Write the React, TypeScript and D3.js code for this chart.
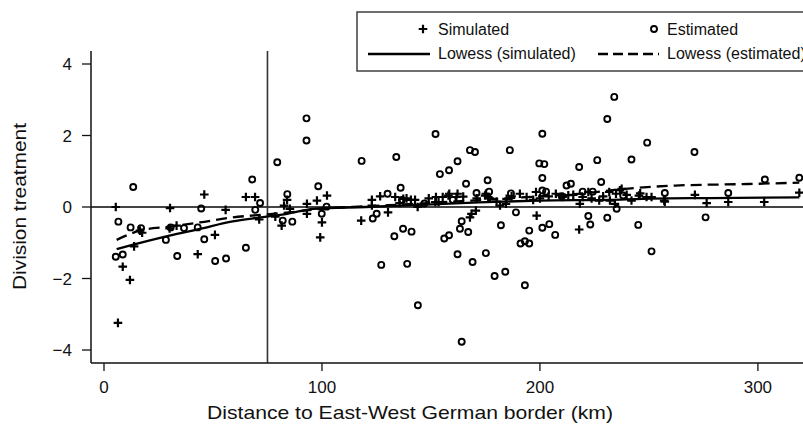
import { useEffect, useRef } from 'react';
import * as d3 from 'd3';

// [distance km, treatment]
const simulated: [number, number][] = [
  [5.4, 0], [8.6, -1.67], [11.9, -2.04], [13.8, -1.1], [16.5, -0.66], [17.5, -0.72],
  [30.3, -0.03], [33.3, -0.52], [30.1, -0.6], [46, 0.35], [43, -1.32], [50.9, -0.78],
  [55.8, -0.08], [65.1, 0.28], [69.3, 0.28], [71.2, -0.35], [6.4, -3.24],
  [81.5, -0.52], [82.6, 0.04], [85.3, -0.05], [84, 0.2], [78.6, -0.27], [93.1, 0.09],
  [93.1, -0.19], [97.7, 0.18], [102.3, 0.32], [100, -0.43], [99.2, -0.85], [118, -0.38],
  [122.9, 0.2], [122.9, 0.04], [126.7, 0.3], [130.3, -0.15], [133.6, 0.28], [135.6, 0.11],
  [137.3, 0.23], [140.8, 0.2], [143.9, 0], [152, 0.14], [153.5, 0.14], [158, 0.32],
  [161.7, 0.28], [168.6, -0.19], [167.9, -0.29], [170.6, -0.1], [174.8, 0.32], [176.3, 0.28],
  [181.7, 0.04], [184.7, 0.23], [190.8, 0.37], [193.9, 0.28], [198.5, -0.24], [218, -0.63],
  [158.4, 0.37], [162.2, 0.37], [175.2, 0.37], [198.2, 0.42], [207.3, 0.37], [210.4, 0.28],
  [219.6, 0.28], [227.2, 0.18], [231.8, 0.42], [152.3, 0.28], [155.4, 0.28], [184.4, 0.09],
  [234.9, 0.37], [237.5, 0.51], [242, 0.18], [245.4, 0.32], [248.9, 0.28], [251.2, 0.28],
  [257, 0.18], [271.1, 0.34], [276.5, 0.11], [286.4, 0.14], [302.9, 0.14], [319, 0.4],
  [232.1, 0.18], [234.4, 0.09], [218.3, 0.09], [222.2, 0.42], [236.7, 0.47],
  [138.8, 0.24], [142.7, 0.2], [149, 0.24], [164.8, 0.29], [171, 0.24], [177.1, 0.24],
  [180.1, 0.15], [187, 0.3], [196.9, 0.2], [200, 0.24], [204, 0.3], [213, 0.33],
  [215.3, 0.34], [223.7, 0.24], [229, 0.3], [239.8, 0.34], [246, 0.38], [257.3, 0.15],
];

const estimated: [number, number][] = [
  [13.4, 0.56], [6.6, -0.41], [12.2, -0.57], [17, -0.59], [5.4, -1.39], [8.6, -1.33],
  [28.4, -0.92], [33.6, -1.37], [30.6, -0.57], [36.7, -0.59], [43, -0.57], [44.6, -0.04],
  [46, -0.9], [51, -1.51], [56, -1.44], [65.1, -1.14], [68, 0.77], [69.4, -0.08], [71.6, 0.11],
  [79.5, 1.25], [84.1, 0.36], [82, -0.38], [86.4, -0.41], [92.9, 2.48], [92.9, 1.86],
  [98.3, 0.58], [102.1, 0.01], [99.9, -0.19], [118.2, 1.29], [134.1, 1.4], [123.3, -0.32],
  [125.1, -0.19], [130.1, 0.37], [136.1, 0.54], [133.2, -0.82], [137.2, -0.61], [141.1, -0.69],
  [127.2, -1.62], [139.1, -1.59], [144, -2.75], [164.1, -3.77], [152.1, 2.04], [154.1, 0.92],
  [158.3, 1.03], [162.2, 1.28], [166.1, 0.65], [167.9, 1.59], [170.2, 1.54], [186.2, 1.59],
  [176, 0.75], [170.9, 0.39], [164.1, -0.4], [163.3, -0.61], [167.1, -0.7], [156.1, -0.88],
  [158.3, -0.79], [162.2, -1.32], [169.1, -1.54], [175.2, -1.29], [179.2, -1.93], [184.1, -1.81],
  [182.1, -0.51], [189, -0.15], [195.1, -0.66], [191.1, -1.02], [193.1, -0.96], [195.1, -1.02],
  [193.1, -2.19], [201.1, 2.05], [199.7, 1.22], [202, 1.2], [201.1, 0.81], [218, 1.12],
  [226.3, 1.31], [230.9, 2.46], [234.1, 3.08], [242, 1.33], [249.2, 1.8], [270.9, 1.54],
  [228.1, 0.7], [212.2, 0.6], [214.2, 0.65], [303.2, 0.77], [319, 0.82], [201.1, 0.46],
  [257.3, 0.39], [286.4, 0.39], [235.2, -0.05], [222.2, -0.25], [223.1, -0.49], [230.9, -0.3],
  [245.1, -0.5], [251.2, -1.24], [276, -0.29], [201.1, -0.58], [204.3, -0.48], [207, -0.78],
  [238.2, 0.32], [136.7, 0.2], [176.7, 0.43], [186.7, 0.38], [202.8, 0.43], [219.6, 0.43],
  [224.2, 0.43], [147, 0.1], [160, 0.2], [210, 0.3],
];

const lowessSimulated: [number, number][] = [
  [5.8, -1.18], [13, -1.06], [30, -0.8], [44, -0.61], [59, -0.4], [72, -0.29], [84, -0.19],
  [96, -0.05], [120, 0.0], [142, 0.05], [172, 0.13], [200, 0.18], [232, 0.2], [247, 0.23],
  [278, 0.25], [319, 0.27],
];

const lowessEstimated: [number, number][] = [
  [5.8, -0.92], [16.5, -0.66], [30, -0.55], [44, -0.43], [59, -0.29], [72, -0.22], [85, -0.15],
  [100, -0.05], [120, 0.02], [140, 0.08], [160, 0.15], [180, 0.22], [200, 0.3], [220, 0.38],
  [238, 0.5], [262, 0.6], [293, 0.64], [319, 0.68],
];

const xTicks = [0, 100, 200, 300];
const yTicks = [-4, -2, 0, 2, 4];
const cutoff = 75;

export default function App() {
  const svgRef = useRef<SVGSVGElement>(null);

  useEffect(() => {
    if (!svgRef.current) return;
    const svg = d3.select(svgRef.current);
    svg.selectAll('*').remove();

    const left = 91;
    const right = 812;
    const top = 51;
    const bottom = 363;

    const x = d3.scaleLinear().domain([0, 300]).range([104, 757.9]);
    const y = d3.scaleLinear().domain([-4, 4]).range([350, 64]);

    const font = '"Liberation Sans", Arial, Helvetica, sans-serif';

    // zero line and cutoff
    svg.append('line')
      .attr('x1', left).attr('x2', right)
      .attr('y1', y(0)).attr('y2', y(0))
      .attr('stroke', '#444').attr('stroke-width', 2);
    svg.append('line')
      .attr('x1', x(cutoff)).attr('x2', x(cutoff))
      .attr('y1', top).attr('y2', bottom)
      .attr('stroke', '#333').attr('stroke-width', 1.6);

    // axes
    svg.append('line')
      .attr('x1', left).attr('x2', left).attr('y1', top).attr('y2', bottom)
      .attr('stroke', '#111').attr('stroke-width', 1.5);
    svg.append('line')
      .attr('x1', left).attr('x2', right).attr('y1', bottom).attr('y2', bottom)
      .attr('stroke', '#111').attr('stroke-width', 1.5);

    yTicks.forEach(t => {
      svg.append('line')
        .attr('x1', left - 9).attr('x2', left).attr('y1', y(t)).attr('y2', y(t))
        .attr('stroke', '#111').attr('stroke-width', 1.3);
      svg.append('text')
        .attr('x', 72).attr('y', y(t) + 6)
        .attr('text-anchor', 'end')
        .style('font-family', font).style('font-size', '17px').attr('fill', '#111')
        .text(t < 0 ? `\u2212${-t}` : `${t}`);
    });

    xTicks.forEach(t => {
      svg.append('line')
        .attr('x1', x(t)).attr('x2', x(t)).attr('y1', bottom).attr('y2', bottom + 8)
        .attr('stroke', '#111').attr('stroke-width', 1.3);
      svg.append('text')
        .attr('x', x(t)).attr('y', 393)
        .attr('text-anchor', 'middle')
        .style('font-family', font).style('font-size', '17px').attr('fill', '#111')
        .text(`${t}`);
    });

    svg.append('text')
      .attr('x', 207).attr('y', 419)
      .attr('textLength', 406).attr('lengthAdjust', 'spacingAndGlyphs')
      .style('font-family', font).style('font-size', '18.5px').attr('fill', '#111')
      .text('Distance to East-West German border (km)');

    svg.append('text')
      .attr('transform', 'translate(25.5,206.5) rotate(-90)')
      .attr('text-anchor', 'middle')
      .attr('textLength', 167).attr('lengthAdjust', 'spacingAndGlyphs')
      .style('font-family', font).style('font-size', '18.5px').attr('fill', '#111')
      .text('Division treatment');

    const plus = 'M-4.3,0H4.3M0,-4.3V4.3';

    // points
    svg.append('g').selectAll('path')
      .data(simulated)
      .enter().append('path')
      .attr('d', plus)
      .attr('transform', d => `translate(${x(d[0])},${y(d[1])})`)
      .attr('stroke', '#000').attr('stroke-width', 2.2).attr('fill', 'none');

    svg.append('g').selectAll('circle')
      .data(estimated)
      .enter().append('circle')
      .attr('cx', d => x(d[0])).attr('cy', d => y(d[1]))
      .attr('r', 3)
      .attr('fill', 'none').attr('stroke', '#000').attr('stroke-width', 1.9);

    // lowess lines
    const line = d3.line<[number, number]>()
      .x(d => x(d[0])).y(d => y(d[1]))
      .curve(d3.curveMonotoneX);

    svg.append('path')
      .datum(lowessSimulated)
      .attr('d', line)
      .attr('fill', 'none').attr('stroke', '#000').attr('stroke-width', 2.3);

    svg.append('path')
      .datum(lowessEstimated)
      .attr('d', line)
      .attr('fill', 'none').attr('stroke', '#000').attr('stroke-width', 2.3)
      .attr('stroke-dasharray', '11,6');

    // legend
    const lg = svg.append('g');
    lg.append('rect')
      .attr('x', 357).attr('y', 12).attr('width', 470).attr('height', 59)
      .attr('fill', '#fff').attr('stroke', '#333').attr('stroke-width', 1.4);

    lg.append('path')
      .attr('d', plus)
      .attr('transform', 'translate(423,29)')
      .attr('stroke', '#000').attr('stroke-width', 2.2);
    lg.append('circle')
      .attr('cx', 654).attr('cy', 29).attr('r', 3)
      .attr('fill', 'none').attr('stroke', '#000').attr('stroke-width', 1.9);
    lg.append('line')
      .attr('x1', 368).attr('x2', 430).attr('y1', 54).attr('y2', 54)
      .attr('stroke', '#000').attr('stroke-width', 2.3);
    lg.append('line')
      .attr('x1', 598).attr('x2', 659).attr('y1', 54).attr('y2', 54)
      .attr('stroke', '#000').attr('stroke-width', 2.3)
      .attr('stroke-dasharray', '10,5');

    const legendText = [
      { x: 438, y: 35, label: 'Simulated' },
      { x: 667, y: 35, label: 'Estimated' },
      { x: 438, y: 59, label: 'Lowess (simulated)' },
      { x: 667, y: 59, label: 'Lowess (estimated)' },
    ];
    legendText.forEach(t => {
      lg.append('text')
        .attr('x', t.x).attr('y', t.y)
        .style('font-family', font).style('font-size', '16px').attr('fill', '#111')
        .text(t.label);
    });
  }, []);

  return (
    <div style={{ position: 'absolute', left: 0, top: 0 }}>
      <svg ref={svgRef} width={803} height={424} style={{ display: 'block', background: '#fff' }} />
    </div>
  );
}
